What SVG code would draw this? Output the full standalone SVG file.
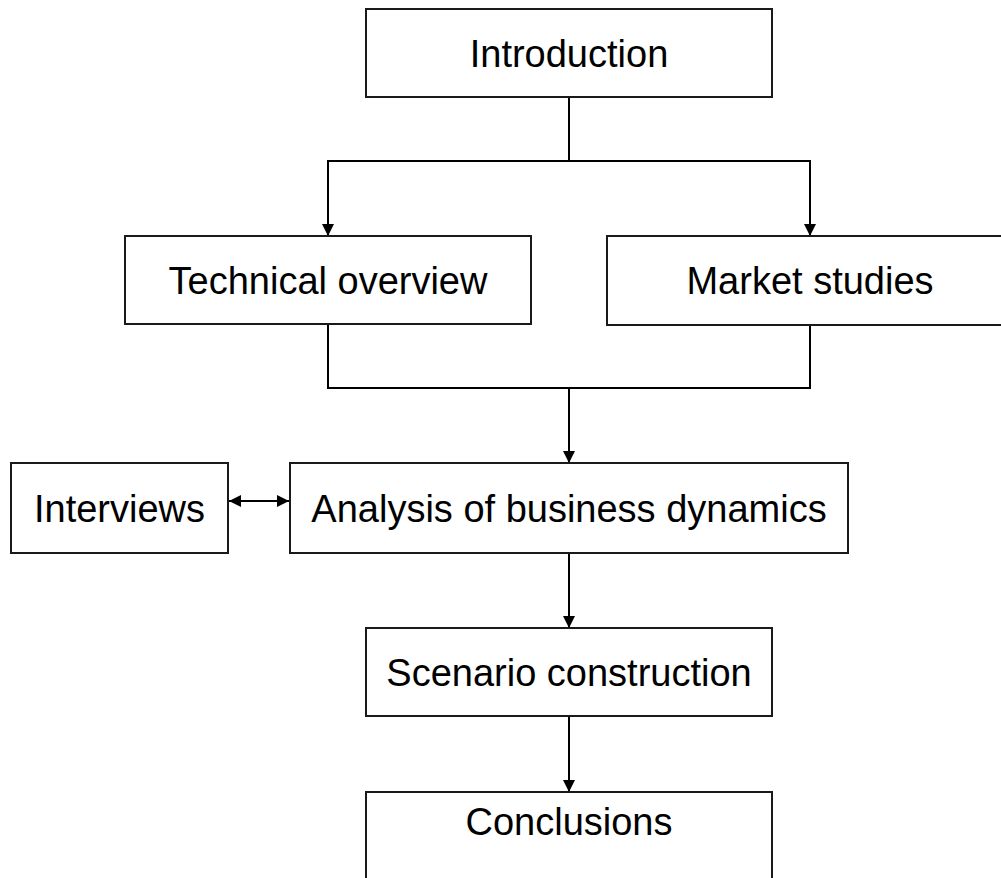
<svg xmlns="http://www.w3.org/2000/svg" width="1001" height="878" viewBox="0 0 1001 878">
  <style>
    .box { fill: #ffffff; stroke: #1a1a1a; stroke-width: 2; }
    .lbl { font-family: "Liberation Sans", Arial, sans-serif; font-size: 38px; fill: #000000; text-anchor: middle; }
    .wire { fill: none; stroke: #000000; stroke-width: 2; }
  </style>
  <defs>
    <marker id="head" viewBox="0 0 12 12" refX="12" refY="6" markerWidth="12" markerHeight="12" markerUnits="userSpaceOnUse" orient="auto">
      <path d="M0,0 L12,6 L0,12 Z" fill="#000000"/>
    </marker>
    <marker id="tail" viewBox="0 0 12 12" refX="0" refY="6" markerWidth="12" markerHeight="12" markerUnits="userSpaceOnUse" orient="auto">
      <path d="M12,0 L0,6 L12,12 Z" fill="#000000"/>
    </marker>
  </defs>

  <rect width="1001" height="878" fill="#ffffff"/>

  <!-- connectors -->
  <g id="connectors">
    <path class="wire" d="M569,97 V161"/>
    <path class="wire" d="M569,161 H328 V236" marker-end="url(#head)"/>
    <path class="wire" d="M569,161 H810 V236" marker-end="url(#head)"/>
    <path class="wire" d="M328,324 V388 H810 V325"/>
    <path class="wire" d="M569,388 V463" marker-end="url(#head)"/>
    <path class="wire" d="M229,501 H289" marker-start="url(#tail)" marker-end="url(#head)"/>
    <path class="wire" d="M569,553 V628" marker-end="url(#head)"/>
    <path class="wire" d="M569,716 V792" marker-end="url(#head)"/>
  </g>

  <g id="introduction">
    <rect class="box" x="366" y="9" width="406" height="88"/>
    <text class="lbl" x="569" y="67">Introduction</text>
  </g>

  <g id="technical-overview">
    <rect class="box" x="125" y="236" width="406" height="88"/>
    <text class="lbl" x="328" y="294">Technical overview</text>
  </g>

  <g id="market-studies">
    <rect class="box" x="607" y="236" width="406" height="89"/>
    <text class="lbl" x="810" y="294">Market studies</text>
  </g>

  <g id="interviews">
    <rect class="box" x="11" y="463" width="217" height="90"/>
    <text class="lbl" x="119.5" y="522">Interviews</text>
  </g>

  <g id="analysis">
    <rect class="box" x="290" y="463" width="558" height="90"/>
    <text class="lbl" x="569" y="522">Analysis of business dynamics</text>
  </g>

  <g id="scenario-construction">
    <rect class="box" x="366" y="628" width="406" height="88"/>
    <text class="lbl" x="569" y="686">Scenario construction</text>
  </g>

  <g id="conclusions">
    <rect class="box" x="366" y="792" width="406" height="100"/>
    <text class="lbl" x="569" y="835">Conclusions</text>
  </g>
</svg>
